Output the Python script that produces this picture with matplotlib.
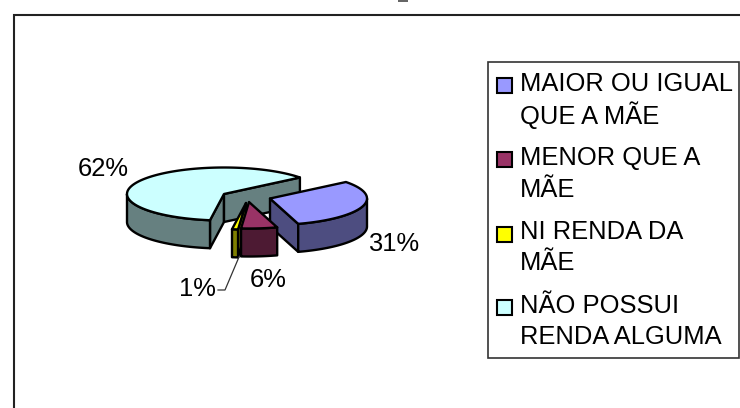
import numpy as np
import matplotlib
matplotlib.use("Agg")
import matplotlib.pyplot as plt
from matplotlib.patches import Polygon, Rectangle

plt.rcParams['font.family'] = ['Liberation Sans', 'DejaVu Sans']

categories = ["MAIOR OU IGUAL\nQUE A MÃE", "MENOR QUE A\nMÃE", "NI RENDA DA\nMÃE", "NÃO POSSUI\nRENDA ALGUMA"]
values = [31, 6, 1, 62]
pct_labels = ["31%", "6%", "1%", "62%"]
top_colors = ["#9999FF", "#993366", "#FFFF00", "#CCFFFF"]
side_colors = ["#4D4D80", "#4D1A33", "#808000", "#668080"]

W, H = 740, 408
START = 38.5
A, B, DEPTH = 97, 26.5, 28
apexes = [(270, 198.5), (249, 202), (246, 203), (224, 194)]
label_pos = [(394, 244), (268, 280), (197, 289), (103, 169)]
FS = 18.4
LW = 1.7

fig = plt.figure(figsize=(W / 100, H / 100), dpi=100)
ax = fig.add_axes([0, 0, 1, 1])
ax.set_xlim(0, W)
ax.set_ylim(H, 0)
ax.axis("off")

# remnant of the cropped-off title at the top edge
ax.add_patch(Rectangle((398, 0), 10, 2, fc="#666666", ec="none", zorder=1))

# outer chart frame (open to the right and bottom of the crop)
ax.plot([14, 14, W + 5], [H + 5, 15, 15], color="#222222", lw=1.5, solid_joinstyle="miter")

fracs = np.array(values, dtype=float) / sum(values)
ends = START - np.cumsum(fracs) * 360
starts = np.concatenate([[START], ends[:-1]])


def pt(c, deg):
    r = np.radians(deg)
    return np.column_stack([c[0] + A * np.cos(r), c[1] - B * np.sin(r)])


def face(c, deg, color, z):
    p = pt(c, deg)[0]
    quad = [c, p, (p[0], p[1] + DEPTH), (c[0], c[1] + DEPTH)]
    ax.add_patch(Polygon(quad, closed=True, fc=color, ec="black", lw=LW, joinstyle="round", zorder=z))


order = [3, 0, 2, 1]
for i in order:
    c, a0, a1 = apexes[i], starts[i], ends[i]
    z = 2 + order.index(i)
    # visible cut faces: a0 is the counter-clockwise edge, a1 the clockwise edge
    if np.sin(np.radians(a0 + 90)) < 0:
        face(c, a0, side_colors[i], z)
    if np.sin(np.radians(a1 - 90)) < 0:
        face(c, a1, side_colors[i], z)
    # visible outer rim
    t = np.linspace(a1, a0, 300)
    t = t[np.sin(np.radians(t)) <= 0]
    if t.size > 1:
        rim = pt(c, t)
        low = rim + [0, DEPTH]
        ax.add_patch(Polygon(np.vstack([rim, low[::-1]]), closed=True, fc=side_colors[i],
                             ec="black", lw=LW, joinstyle="round", zorder=z))
    # top
    t = np.linspace(a1, a0, 300)
    ax.add_patch(Polygon(np.vstack([[c], pt(c, t)]), closed=True, fc=top_colors[i],
                         ec="black", lw=LW, joinstyle="round", zorder=z))

# data labels
for s, (x, y) in zip(pct_labels, label_pos):
    ax.text(x, y, s, fontsize=FS, ha="center", va="center", color="black", zorder=10)

# leader line for the 1% label
ax.plot([239, 225, 218], [257, 290, 290], color="#333333", lw=0.9, zorder=9)

# legend
ax.add_patch(Rectangle((488, 62), 251, 296, fc="white", ec="#333333", lw=1.2, zorder=1))
marker_y = [85.5, 159.5, 234.5, 307.5]
row_y = [(84, 115), (158, 190), (232, 263), (306, 337)]
for name, col, y, (y1, y2) in zip(categories, top_colors, marker_y, row_y):
    ax.add_patch(Rectangle((497, y - 7.5), 15, 15, fc=col, ec="black", lw=1.5, zorder=3))
    line1, line2 = name.split("\n")
    ax.text(520, y1, line1, fontsize=FS, ha="left", va="center", zorder=3)
    ax.text(520, y2, line2, fontsize=FS, ha="left", va="center", zorder=3)

fig.savefig("out.png", dpi=100, facecolor="white")
